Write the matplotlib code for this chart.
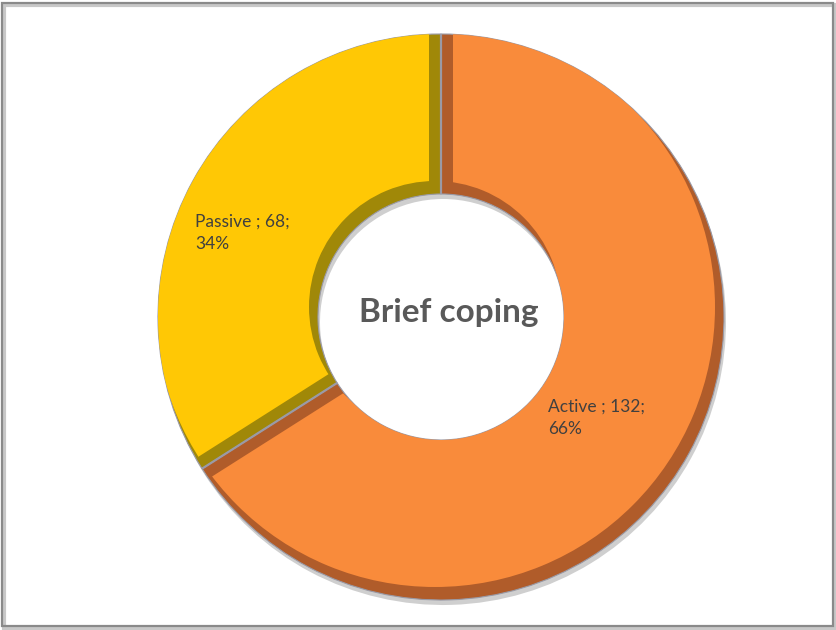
import matplotlib
matplotlib.use("Agg")
import numpy as np
import matplotlib.pyplot as plt
from matplotlib.patches import Rectangle, Polygon, Wedge

categories = ["Active", "Passive"]
counts = [132, 68]
percents = [66, 34]
title = "Brief coping"

light_colors = ["#F98B3B", "#FFC805"]
dark_colors = ["#B05C2A", "#A08808"]

W, H = 837, 630
fig = plt.figure(figsize=(W / 100, H / 100), dpi=100)
ax = fig.add_axes([0, 0, 1, 1])

cx, cy = 441, 313
R, ring = 283, 160
r_in = R - ring

# frame with shadow
fig.patches.append(Rectangle((4 / W, 1 / H), (W - 6) / W, (H - 6) / H, transform=fig.transFigure,
                             fill=False, edgecolor="#C8C8C8", linewidth=3, zorder=0))
fig.patches.append(Rectangle((2 / W, 4 / H), (W - 6) / W, (H - 7) / H, transform=fig.transFigure,
                             fill=False, edgecolor="#8A8A8A", linewidth=1.6, zorder=1))

# shadow ring
ax.pie(counts, startangle=90, counterclock=False, radius=R, center=(cx + 2, cy - 5),
       colors=["#CFCFCF", "#CFCFCF"], wedgeprops=dict(width=ring, linewidth=0), frame=False)

# base (dark bevel) wedges
base, _ = ax.pie(counts, startangle=90, counterclock=False, radius=R, center=(cx, cy),
                 colors=dark_colors,
                 wedgeprops=dict(width=ring, edgecolor="#9A9AA6", linewidth=0.8), frame=False)

# light face: radially inset wedge, clipped to an annulus shifted up-left (light from top-left)
b = 12
sdx, sdy = -6, 10
for w, lc in zip(base, light_colors):
    t1, t2 = w.theta1, w.theta2
    d_out = np.degrees(np.arcsin(b / R))
    d_in = np.degrees(np.arcsin(b / r_in))
    to = np.radians(np.linspace(t1 + d_out, t2 - d_out, 300))
    ti = np.radians(np.linspace(t2 - d_in, t1 + d_in, 300))
    pts = np.concatenate([
        np.column_stack([cx + R * np.cos(to), cy + R * np.sin(to)]),
        np.column_stack([cx + r_in * np.cos(ti), cy + r_in * np.sin(ti)]),
    ])
    face = Polygon(pts, closed=True, facecolor=lc, edgecolor="none", zorder=3)
    ax.add_patch(face)
    clip = Wedge((cx + sdx, cy + sdy), R - 3, 0, 360, width=ring - 6,
                 transform=ax.transData, facecolor="none", edgecolor="none")
    ax.add_patch(clip)
    face.set_clip_path(clip)

# thin separator lines at the slice boundaries
for w in base:
    a = np.radians(w.theta1)
    ax.plot([cx + r_in * np.cos(a), cx + R * np.cos(a)],
            [cy + r_in * np.sin(a), cy + R * np.sin(a)], color="#9A9AA6", lw=1.6, zorder=4,
            solid_capstyle="butt")

ax.set_xlim(0, W)
ax.set_ylim(0, H)
ax.set_aspect("equal")
ax.axis("off")

label_pos = [(548, H - 418), (195, H - 233)]
for cat, n, p, (x, y) in zip(categories, counts, percents, label_pos):
    ax.text(x, y, f"{cat} ; {n};\n{p}%", ha="left", va="center", fontsize=12.5,
            family="Lato", color="#404040", linespacing=1.45, zorder=5)

ax.text(cx + 8, cy + 4, title, ha="center", va="center", fontsize=24, fontweight="bold",
        family="Lato", color="#595959", zorder=5)

fig.savefig("out.png", dpi=100)
